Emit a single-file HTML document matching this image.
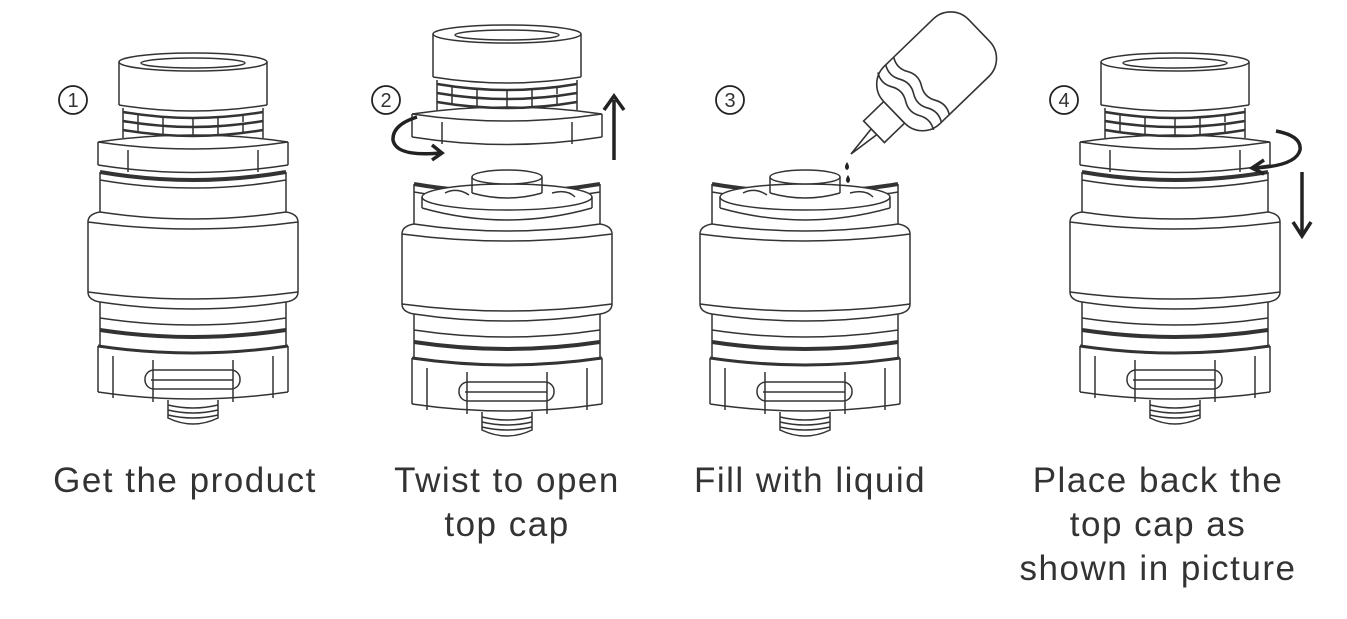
<!DOCTYPE html>
<html><head><style>
html,body{margin:0;padding:0;background:#fff;}
svg{display:block;}
text{font-family:"Liberation Sans",sans-serif;fill:#333;}
</style></head><body>
<svg width="1347" height="619" viewBox="0 0 1347 619" xmlns="http://www.w3.org/2000/svg">
<defs>
<g id="cap" fill="none" stroke="#333" stroke-width="1.5">
  <ellipse cx="0" cy="62" rx="74" ry="9" fill="#fff"/>
  <ellipse cx="0" cy="63" rx="52" ry="5"/>
  <path d="M-74 62 L-74 105 M74 62 L74 105 M-74 105 Q0 117 74 105"/>
  <path d="M-70 108 L-70 138 M70 108 L70 138"/>
  <path d="M-70 112 Q0 124 70 112 M-70 121 Q0 133 70 121 M-70 130 Q0 142 70 130" stroke-width="2.5"/>
  <path d="M-55 114 V122 M-30 116 V125 M0 117 V126 M25 116 V125 M50 114 V122 M-55 124 V132 M-30 126 V135 M0 127 V136 M25 126 V135 M50 124 V132"/>
  <path d="M-95 142 Q0 128 95 142 M-95 142 Q0 156 95 142 M-95 142 L-95 165 M95 142 L95 165 M-95 165 Q0 180 95 165"/>
  <path d="M-65 150 V172 M65 150 V172"/>
</g>
<g id="body" fill="none" stroke="#333" stroke-width="1.5">
  <path d="M-93 172 Q0 188 93 172" stroke-width="4"/>
  <path d="M-93 180 Q0 196 93 180"/>
  <path d="M-93 172 V212 M93 172 V212"/>
  <path d="M-93 212 Q0 226 93 212"/>
  <path d="M-93 212 Q-105 214 -105 222 L-105 292 Q-105 300 -93 302 M93 212 Q105 214 105 222 L105 292 Q105 300 93 302"/>
  <path d="M-105 222 Q0 236 105 222 M-105 292 Q0 306 105 292 M-93 302 Q0 316 93 302"/>
  <path d="M-93 302 V346 M93 302 V346"/>
  <path d="M-93 318 Q0 332 93 318"/>
  <path d="M-93 330 Q0 344 93 330" stroke-width="4"/>
  <path d="M-95 346 Q0 360 95 346" stroke-width="3"/>
  <path d="M-95 346 V392 M95 346 V392 M-95 392 Q0 406 95 392"/>
  <path d="M-80 356 V398 M80 356 V398 M-40 360 V402 M40 360 V402"/>
  <rect x="-48" y="370" width="95" height="19" rx="9"/>
  <path d="M-42 380 H40"/>
  <path d="M-25 400 V418 Q0 430 25 418 V400"/>
  <path d="M-25 405 Q0 411 25 405 M-25 410 Q0 416 25 410 M-25 415 Q0 421 25 415"/>
</g>
<g id="deck" fill="none" stroke="#333" stroke-width="1.5">
  <ellipse cx="0" cy="197" rx="85" ry="13" fill="#fff"/>
  <path d="M-85 197 V208 M85 197 V208 M-85 208 Q0 232 85 208"/>
  <path d="M-35 177 V193 M35 177 V193"/>
  <ellipse cx="0" cy="177" rx="35" ry="7" fill="#fff"/>
  <path d="M-35 193 Q0 203 35 193"/>
  <path d="M-62 193 Q-50 187 -38 195 M45 193 Q60 189 68 197"/>
</g>
</defs>

<use href="#body" transform="translate(193,0)"/>
<use href="#cap" transform="translate(193,0)"/>
<use href="#body" transform="translate(507,12)"/>
<use href="#deck" transform="translate(507,0)"/>
<use href="#cap" transform="translate(507,-28)"/>
<use href="#body" transform="translate(805,12)"/>
<use href="#deck" transform="translate(805,0)"/>
<use href="#body" transform="translate(1175,0)"/>
<use href="#cap" transform="translate(1175,0)"/>

<g fill="none" stroke="#222" stroke-width="3.5">
  <path d="M417 117 Q392 125 393 140 Q396 157 440 153"/>
  <path d="M432 145 L442 153 L432 160"/>
  <path d="M614 160 V100"/>
  <path d="M604 110 L614 96 L624 110"/>
  <path d="M1276 131 Q1302 136 1300 150 Q1296 166 1254 168"/>
  <path d="M1264 160 L1252 168 L1264 174"/>
  <path d="M1302 172 V233"/>
  <path d="M1293 222 L1302 236 L1311 222"/>
</g>

<g fill="none" stroke="#333" stroke-width="1.6" transform="translate(851,154) rotate(-44)">
  <path d="M0 0 L32 -4 L32 4 Z"/>
  <rect x="32" y="-15" width="28" height="30" fill="#fff"/>
  <rect x="60" y="-40" width="118" height="80" rx="25" fill="#fff"/>
  <path d="M76 -40 q-6 10 0 20 q6 10 0 20 q-6 10 0 20 q6 10 0 20"/>
  <path d="M87 -40 q-6 10 0 20 q6 10 0 20 q-6 10 0 20 q6 10 0 20"/>
  <path d="M98 -40 q-6 10 0 20 q6 10 0 20 q-6 10 0 20 q6 10 0 20"/>
</g>
<path d="M847 162 q-4 6 0 8 q4 -2 0 -8z" fill="#222"/>
<path d="M848 175 q-4 6 0 8 q4 -2 0 -8z" fill="#222"/>

<g fill="none" stroke="#222" stroke-width="1.8">
  <circle cx="73" cy="100" r="14"/>
  <circle cx="386" cy="100" r="14"/>
  <circle cx="730" cy="100" r="14"/>
  <circle cx="1064" cy="100" r="14"/>
</g>
<g font-size="20" text-anchor="middle">
  <text x="73" y="107">1</text>
  <text x="386" y="107">2</text>
  <text x="730" y="107">3</text>
  <text x="1064" y="107">4</text>
</g>

<g font-size="35" text-anchor="middle" letter-spacing="1.5">
  <text x="185" y="492">Get the product</text>
  <text x="507" y="492">Twist to open</text>
  <text x="507" y="536">top cap</text>
  <text x="810" y="492">Fill with liquid</text>
  <text x="1158" y="492">Place back the</text>
  <text x="1158" y="536">top cap as</text>
  <text x="1158" y="580">shown in picture</text>
</g>
</svg>
</body></html>
